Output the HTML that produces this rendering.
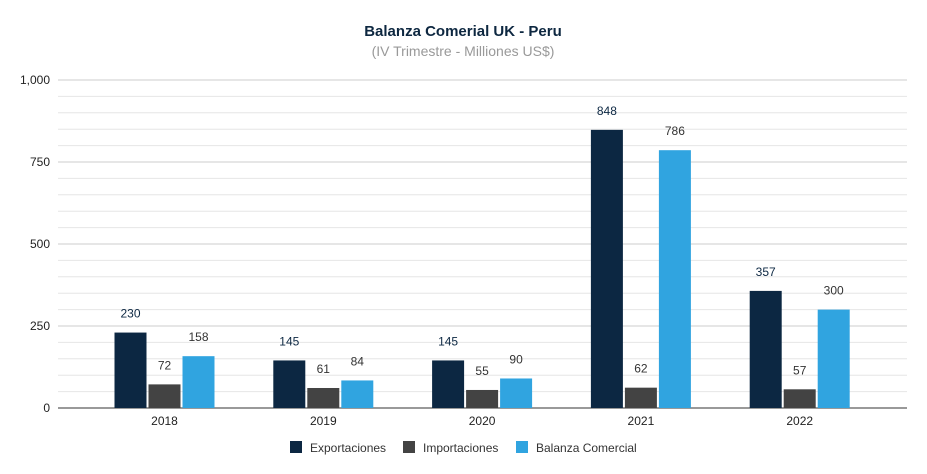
<!DOCTYPE html>
<html><head><meta charset="utf-8"><style>
body{margin:0;background:#fff;font-family:"Liberation Sans",sans-serif;}
svg{display:block}
</style></head><body>
<svg id="c" width="927" height="474">
<text x="463" y="36" text-anchor="middle" font-size="15" font-weight="bold" fill="#0d2740">Balanza Comerial UK - Peru</text>
<text x="463" y="56" text-anchor="middle" font-size="14" fill="#999">(IV Trimestre - Milliones US$)</text>
<g id="grid"></g><g id="bars"></g>
<g font-size="12" fill="#333">
<rect x="290" y="441" width="12" height="12" fill="#0c2742"/>
<text x="310" y="452">Exportaciones</text>
<rect x="403" y="441" width="12" height="12" fill="#434343"/>
<text x="423" y="452">Importaciones</text>
<rect x="516" y="441" width="12" height="12" fill="#30a4e0"/>
<text x="536" y="452">Balanza Comercial</text>
</g>
</svg>
<script>
const categories=["2018","2019","2020","2021","2022"];
const exportaciones=[230,145,145,848,357];
const importaciones=[72,61,55,62,57];
const balanza=[158,84,90,786,300];
const yTicks=[0,250,500,750,1000];
const yTickLabels=["0","250","500","750","1,000"];
const NS="http://www.w3.org/2000/svg";
const y=v=>408-v*0.328;
const xc=i=>164.5+i*158.8;
function mk(t,a,p){const e=document.createElementNS(NS,t);for(const k in a)e.setAttribute(k,a[k]);p.appendChild(e);return e;}
const g=document.getElementById('grid'),b=document.getElementById('bars');
for(let v=50;v<=1000;v+=50){if(v%250)continue;}
for(let v=0;v<=1000;v+=50){
 const major=v%250===0;
 const l=mk('line',{x1:58,x2:907,y1:y(v),y2:y(v),stroke:v===0?'#333':(major?'#ccc':'#e6e6e6'),'stroke-width':1},g);
 
 
}
yTicks.forEach((v,i)=>{const t=mk('text',{x:50,y:y(v)+4,'text-anchor':'end','font-size':12,fill:'#222'},g);t.textContent=yTickLabels[i];
 
 });
const series=[[exportaciones,'#0c2742','#0c2742','exportaciones'],[importaciones,'#434343','#333','importaciones'],[balanza,'#30a4e0','#333','balanza']];
categories.forEach((c,i)=>{
 series.forEach(([arr,col,lc,nm],s)=>{
  const x=xc(i)-50+s*34, v=arr[i];
  const r=mk('rect',{x:x,y:y(v),width:32,height:408-y(v),fill:col},b);
  
  
  const t=mk('text',{x:x+16,y:y(v)-15,'text-anchor':'middle','font-size':12,fill:lc},b);t.textContent=v;
  
  
 });
 const t=mk('text',{x:xc(i),y:425,'text-anchor':'middle','font-size':12,fill:'#222'},b);t.textContent=c;
 
 
});
</script>
</body></html>
